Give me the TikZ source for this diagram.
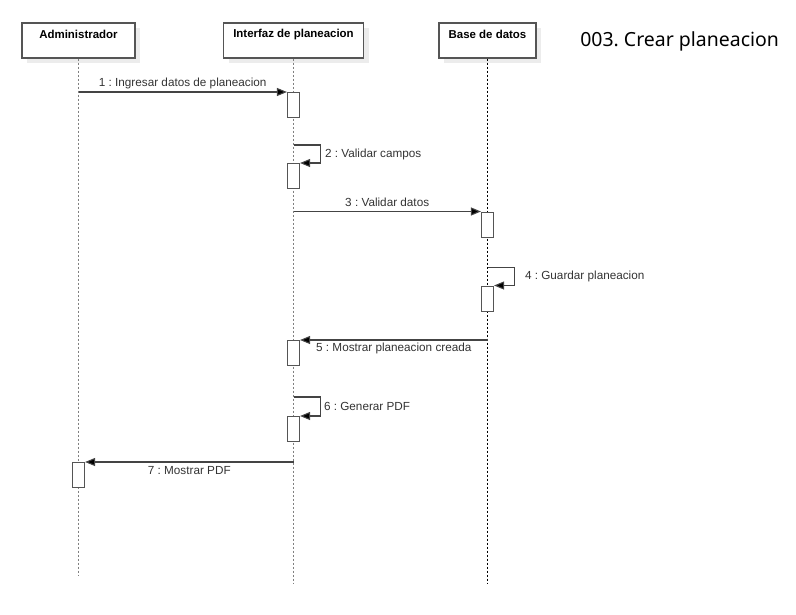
\documentclass[tikz,border=0pt]{standalone}
\usepackage{fontspec}
\setmainfont{Liberation Sans}
\newfontfamily\titlefont{Noto Sans}
\usetikzlibrary{arrows.meta,calc}
\definecolor{linegray}{HTML}{444444}
\definecolor{boxgray}{HTML}{555555}
\definecolor{shadowgray}{HTML}{ECECEC}
\definecolor{txtgray}{HTML}{333333}
\tikzset{
  head/.style={draw=boxgray, line width=0.9pt, fill=white, minimum height=35*0.75pt, inner sep=0pt},
  headshadow/.style={fill=shadowgray, draw=none, minimum height=35*0.75pt, inner sep=0pt},
  headtxt/.style={font=\fontsize{8.6}{10}\selectfont\bfseries, text=black},
  lifeline/.style={line width=0.8pt, dash pattern=on 1.5pt off 1.5pt, draw=gray},
  lifelineb/.style={line width=0.8pt, dash pattern=on 1.5pt off 1.5pt, draw=black},
  act/.style={draw=boxgray, line width=0.9pt, fill=white, minimum width=12*0.75pt, minimum height=25*0.75pt, inner sep=0pt, anchor=north},
  msg/.style={draw=linegray, line width=0.8pt, -{Triangle[length=7.5pt,width=6pt,fill=black]}},
  lbl/.style={font=\fontsize{8.8}{10}\selectfont, text=txtgray, inner sep=0pt},
}
\begin{document}
\frenchspacing
\begin{tikzpicture}[x=0.75pt,y=-0.75pt]
\useasboundingbox (0,0) rectangle (796,614);
% head shadows
\node[headshadow, minimum width=113*0.75pt] (admS) at (83.5,45.5) {};
\node[headshadow, minimum width=140*0.75pt] (ifzS) at (298.5,45.5) {};
\node[headshadow, minimum width=97*0.75pt] (basS) at (492.5,45.5) {};
% heads
\node[head, minimum width=113*0.75pt, label={[headtxt, anchor=center, yshift=-12*0.75pt]north:Administrador}] (adm) at (78.5,40.5) {};
\node[head, minimum width=140*0.75pt, label={[headtxt, anchor=center, yshift=-12*0.75pt]north:Interfaz de planeacion}] (ifz) at (293.5,40.5) {};
\node[head, minimum width=97*0.75pt, label={[headtxt, anchor=center, yshift=-12*0.75pt]north:Base de datos}] (bas) at (487.5,40.5) {};
% title
\node[font=\titlefont\fontsize{14.6}{17}\selectfont, anchor=west, inner sep=0pt] (title) at (580,41) {003. Crear planeacion};
% lifeline ends
\coordinate (admEnd) at (78.5,575);
\coordinate (ifzEnd) at (293.5,584);
\coordinate (basEnd) at (487.5,584);
\draw[lifeline] (adm.south) -- (admEnd);
\draw[lifeline] (ifz.south) -- (ifzEnd);
\draw[lifelineb] (bas.south) -- (basEnd);
% activations
\node[act] (a1) at (293.5,92) {};
\node[act] (a2) at (293.5,163) {};
\node[act] (a3) at (487.5,211.5) {};
\node[act] (a4) at (487.5,285.5) {};
\node[act] (a5) at (293.5,340) {};
\node[act] (a6) at (293.5,416) {};
\node[act] (a7) at (78.5,462) {};
% messages
\draw[msg] (a1.north west -| adm) -- node[lbl, midway, yshift=8.5*0.75pt] {1 : Ingresar datos de planeacion} (a1.north west);
\draw[msg] ([yshift=18*0.75pt]a2.north) -- ++(27,0) |- node[lbl, pos=0.25, anchor=west, xshift=4*0.75pt] {2 : Validar campos} (a2.north east);
\draw[msg] (a3.north west -| ifz) -- node[lbl, midway, yshift=9*0.75pt] {3 : Validar datos} (a3.north west);
\draw[msg] ([yshift=18*0.75pt]a4.north) -- ++(27,0) |- node[lbl, pos=0.25, anchor=west, xshift=10*0.75pt] {4 : Guardar planeacion} (a4.north east);
\draw[msg] (a5.north east -| bas) -- node[lbl, midway, yshift=-8*0.75pt] {5 : Mostrar planeacion creada} (a5.north east);
\draw[msg] ([yshift=19*0.75pt]a6.north) -- ++(27,0) |- node[lbl, pos=0.25, anchor=west, xshift=3*0.75pt] {6 : Generar PDF} (a6.north east);
\draw[msg] (a7.north east -| ifz) -- node[lbl, midway, yshift=-8.5*0.75pt] {7 : Mostrar PDF} (a7.north east);
\end{tikzpicture}
\end{document}
